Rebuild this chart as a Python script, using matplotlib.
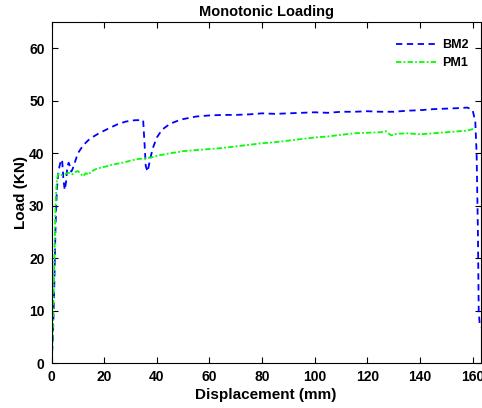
import numpy as np
import matplotlib
matplotlib.use("Agg")
import matplotlib.pyplot as plt

plt.rcParams['font.family'] = ['Liberation Sans', 'DejaVu Sans']

# BM2 (blue dashed)
bm2_x = [0, 0.5, 1.0, 1.5, 2.0, 2.5, 3.0, 3.5, 4.0, 4.5, 5.0, 5.5, 6.0, 6.5, 7.0, 7.5, 8.0,
         9, 10, 12, 14, 16, 18, 20, 22, 25, 28, 30, 32, 34, 34.8, 35.3, 35.8, 36.5, 37.5,
         38.5, 40, 42, 45, 48, 50, 55, 60, 65, 70, 75, 80, 85, 90, 95, 100, 105, 110,
         115, 120, 125, 130, 135, 140, 145, 150, 155, 158, 160, 161, 161.5, 162, 162.3, 162.7, 163]
bm2_y = [0, 5, 14, 26, 33, 36, 37.5, 38.5, 38.8, 35, 33, 34.5, 37.5, 38.2, 37.5, 36.5, 37,
         38.5, 40, 41.5, 42.5, 43.2, 43.8, 44.3, 44.8, 45.5, 46, 46.2, 46.3, 46.3, 46.3, 42, 37.5, 36.5, 39,
         41, 43, 44.5, 45.6, 46.2, 46.5, 47.0, 47.2, 47.3, 47.3, 47.4, 47.6, 47.5, 47.6, 47.7, 47.8, 47.7, 47.9,
         47.9, 48.0, 47.9, 47.9, 48.1, 48.2, 48.4, 48.5, 48.6, 48.7, 48.2, 46, 40, 25, 10, 7.2, 6.8]

# PM1 (green dash-dot)
pm1_x = [0, 0.5, 1.0, 1.5, 2.0, 2.5, 3, 4, 5, 6, 7, 8, 9, 10, 11, 12, 13, 14, 15, 17, 19,
         21, 23, 25, 28, 30, 33, 35, 38, 40, 43, 45, 48, 50, 55, 60, 65, 70, 75, 80, 85,
         90, 95, 100, 105, 110, 115, 120, 125, 127, 129, 131, 135, 140, 145, 150, 155, 158, 160, 161]
pm1_y = [0, 6, 18, 30, 35, 36, 36.1, 35.8, 36.0, 36.2, 36.3, 36.0, 36.4, 36.6, 36.1, 35.6, 36.2, 35.9, 36.5, 37.0, 37.3,
         37.5, 37.8, 38.0, 38.3, 38.6, 38.9, 39.0, 39.2, 39.5, 39.8, 40.0, 40.2, 40.4, 40.6, 40.8, 41.0, 41.3, 41.6, 41.9, 42.1,
         42.4, 42.7, 43.0, 43.2, 43.5, 43.8, 43.9, 44.0, 44.2, 43.4, 43.7, 43.8, 43.6, 43.8, 44.0, 44.2, 44.3, 44.6, 44.5]

fig = plt.figure(figsize=(4.82, 4.08), dpi=100)
ax = fig.add_axes([0.107, 0.110, 0.890, 0.836])

ax.plot(bm2_x, bm2_y, color='#0000ff', linestyle=(0, (3.5, 2.5)), linewidth=1.3, label='BM2')
ax.plot(pm1_x, pm1_y, color='#00ff00', linestyle=(0, (3, 1.2, 1, 1.2)), linewidth=1.3, label='PM1')

ax.set_xlim(0, 163)
ax.set_ylim(0, 65)
ax.set_xticks(np.arange(0, 161, 20))
ax.set_yticks(np.arange(0, 61, 10))
ax.tick_params(direction='in', top=True, right=True, length=4, width=0.8, labelsize=10, pad=5)
for lab in ax.get_xticklabels() + ax.get_yticklabels():
    lab.set_fontweight('bold')
for sp in ax.spines.values():
    sp.set_linewidth(0.8)

ax.set_title('Monotonic Loading', fontsize=10.5, fontweight='bold', pad=4)
ax.set_xlabel('Displacement (mm)', fontsize=11, fontweight='bold', labelpad=3)
ax.set_ylabel('Load (KN)', fontsize=11, fontweight='bold', labelpad=1)

leg = ax.legend(loc='upper right', bbox_to_anchor=(0.985, 0.965), frameon=False,
                fontsize=9, handlelength=3.2, handletextpad=0.5,
                borderaxespad=0.0, labelspacing=0.5)
for t in leg.get_texts():
    t.set_fontweight('bold')

fig.savefig('out.png', dpi=100)
